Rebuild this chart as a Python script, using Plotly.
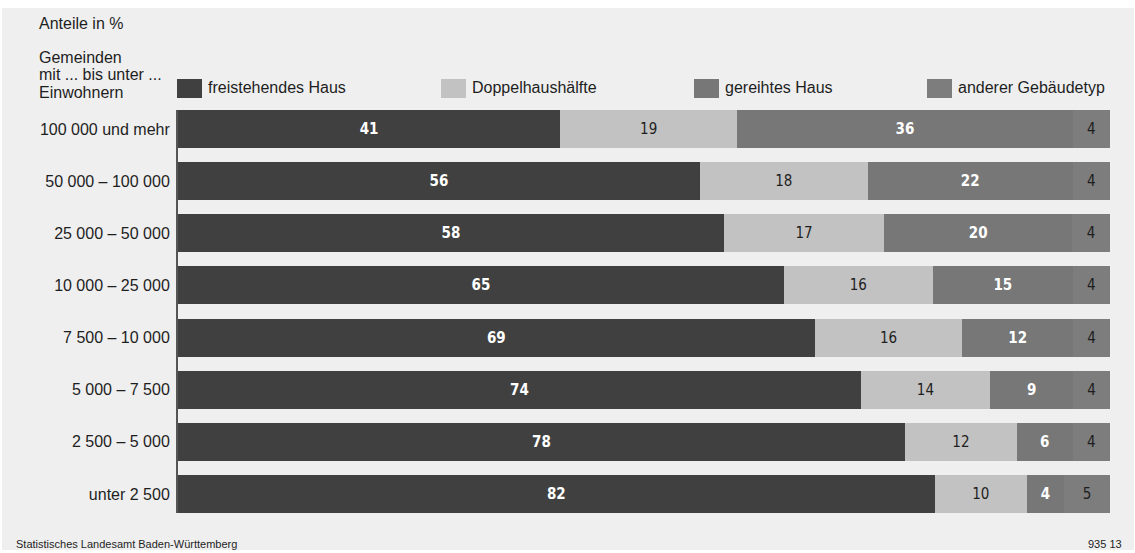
import plotly.graph_objects as go

# Gemeindegrößenklassen (top to bottom)
categories = [
    "100 000 und mehr",
    "50 000 – 100 000",
    "25 000 – 50 000",
    "10 000 – 25 000",
    "7 500 – 10 000",
    "5 000 – 7 500",
    "2 500 – 5 000",
    "unter 2 500",
]

# Anteile in % je Gebäudetyp
freistehend = [41, 56, 58, 65, 69, 74, 78, 82]
doppelhaus = [19, 18, 17, 16, 16, 14, 12, 10]
gereiht = [36, 22, 20, 15, 12, 9, 6, 4]
anderer = [4, 4, 4, 4, 4, 4, 4, 5]

series_names = ["freistehendes Haus", "Doppelhaushälfte", "gereihtes Haus", "anderer Gebäudetyp"]
series_values = [freistehend, doppelhaus, gereiht, anderer]
series_colors = ["#404040", "#c2c2c2", "#777777", "#7d7d7d"]
label_colors = ["#ffffff", "#1e1e1e", "#ffffff", "#1e1e1e"]
label_bold = [True, False, True, False]

W, H = 1135, 553
L, R, T, B = 178, 25, 110, 40
PW, PH = W - L - R, H - T - B

def px_x(px):
    return (px - L) / PW

def px_y(py):
    return (H - B - py) / PH

NARROW = "Liberation Sans Narrow, DejaVu Sans Condensed, Liberation Sans, Arial, sans-serif"
SANS = "Liberation Sans, Arial, Helvetica, sans-serif"

fig = go.Figure()
for name, vals, col, lcol, bold in zip(series_names, series_values, series_colors, label_colors, label_bold):
    fig.add_trace(go.Bar(
        y=categories,
        x=vals,
        name=name,
        orientation="h",
        marker=dict(color=col, line=dict(width=0)),
        text=[str(v) for v in vals],
        texttemplate="<b>%{text}</b>" if bold else "%{text}",
        textposition="inside",
        insidetextanchor="middle",
        textangle=0,
        textfont=dict(family=NARROW, size=15, color=lcol),
        hoverinfo="skip",
        showlegend=False,
    ))

shapes = [
    # light panel behind the chart
    dict(type="rect", xref="paper", yref="paper", layer="below",
         x0=px_x(2), x1=px_x(1134), y0=px_y(550), y1=px_y(8),
         fillcolor="#efefef", line=dict(width=0)),
]
annotations = []

# legend swatches and labels
legend_swatch_x = [177, 441, 694, 927]
for name, col, sx in zip(series_names, series_colors, legend_swatch_x):
    shapes.append(dict(type="rect", xref="paper", yref="paper",
                       x0=px_x(sx), x1=px_x(sx + 25), y0=px_y(98), y1=px_y(79),
                       fillcolor=col, line=dict(width=0)))
    annotations.append(dict(text=name, xref="paper", yref="paper",
                            x=px_x(sx + 29), y=px_y(88), xanchor="left", yanchor="middle",
                            showarrow=False, font=dict(family=SANS, size=16, color="#1e1e1e")))

# header texts
header_lines = [("Anteile in %", 23), ("Gemeinden", 58), ("mit ... bis unter ...", 75), ("Einwohnern", 93)]
for txt, yc in header_lines:
    annotations.append(dict(text=txt, xref="paper", yref="paper",
                            x=px_x(37), y=px_y(yc), xanchor="left", yanchor="middle",
                            showarrow=False, font=dict(family=SANS, size=16, color="#1e1e1e")))

# footer
annotations.append(dict(text="Statistisches Landesamt Baden-Württemberg", xref="paper", yref="paper",
                        x=px_x(14), y=px_y(544), xanchor="left", yanchor="middle",
                        showarrow=False, font=dict(family=SANS, size=11, color="#1e1e1e")))
annotations.append(dict(text="935 13", xref="paper", yref="paper",
                        x=px_x(1124), y=px_y(544), xanchor="right", yanchor="middle",
                        showarrow=False, font=dict(family=SANS, size=11, color="#1e1e1e")))

fig.update_layout(
    width=W, height=H,
    margin=dict(l=L, r=R, t=T, b=B, pad=0),
    barmode="stack",
    barnorm="percent",
    bargap=0.27,
    paper_bgcolor="#ffffff",
    plot_bgcolor="rgba(0,0,0,0)",
    shapes=shapes,
    annotations=annotations,
    uniformtext=dict(mode=False),
    xaxis=dict(range=[0, 100], visible=False, fixedrange=True),
    yaxis=dict(
        type="category",
        categoryorder="array",
        categoryarray=categories,
        range=[7.5 - 0.135, -0.5 + 0.135],
        showline=True, linecolor="#555555", linewidth=2,
        showgrid=False, zeroline=False,
        ticks="", ticklabelstandoff=3,
        tickfont=dict(family=SANS, size=16, color="#1e1e1e"),
        fixedrange=True,
    ),
)

fig.write_html("out.html")
